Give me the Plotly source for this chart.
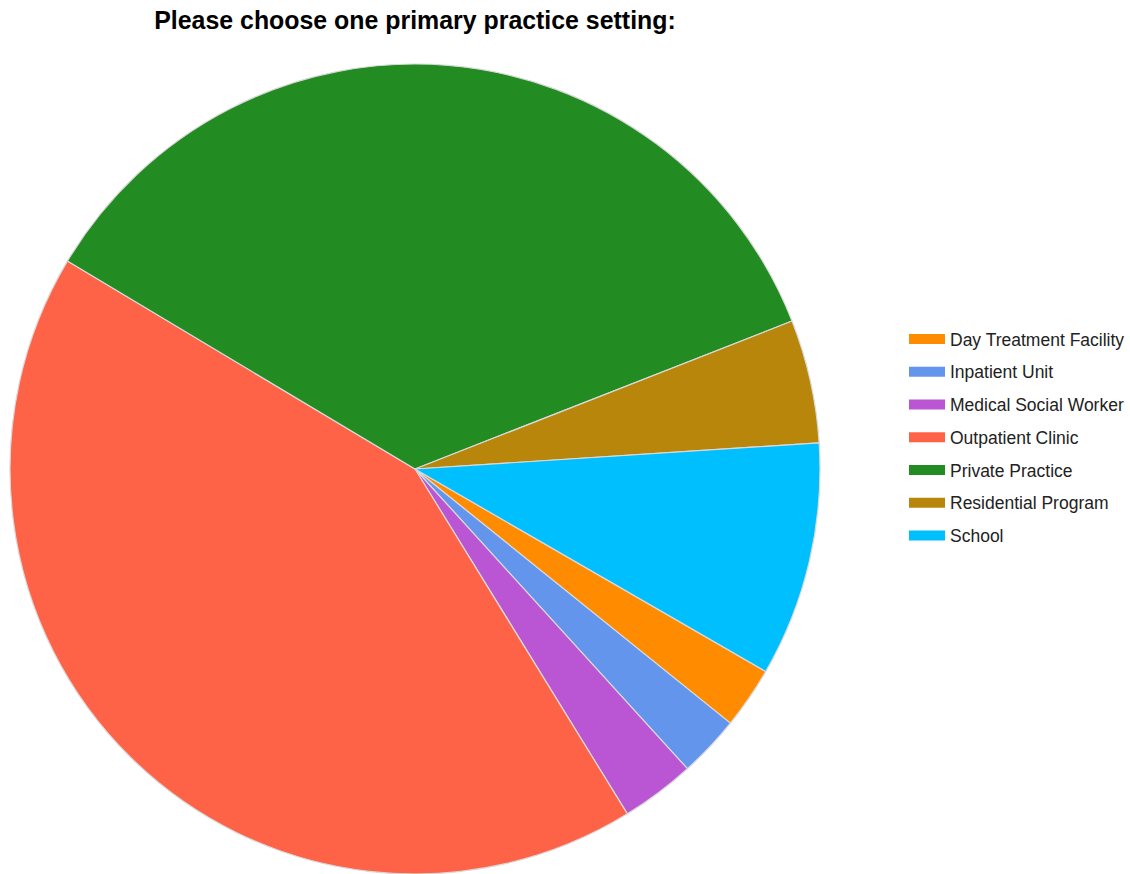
import plotly.graph_objects as go

categories = ["Day Treatment Facility", "Inpatient Unit", "Medical Social Worker",
              "Outpatient Clinic", "Private Practice", "Residential Program", "School"]
values = [5, 5, 6, 86, 72, 10, 19]
colors = ["#FF8C00", "#6495ED", "#BA55D3", "#FF6347", "#228B22", "#B8860B", "#00BFFF"]
title_text = "Please choose one primary practice setting:"

W, H = 1130, 874

fig = go.Figure()
fig.add_trace(go.Pie(
    labels=categories, values=values, sort=False, direction="clockwise",
    rotation=120, textinfo="none", hoverinfo="label+value+percent",
    marker=dict(colors=colors, line=dict(color="#d9d9d9", width=1.2)),
    domain=dict(x=[10 / W, 820 / W], y=[0, (H - 64) / H]),
    showlegend=False,
))

# legend entries (wide colour swatches)
for i, (c, col) in enumerate(zip(categories, colors)):
    fig.add_trace(go.Scatter(
        x=[None], y=[None], mode="lines", name=c,
        line=dict(color=col, width=13), legendgroup=f"g{i}",
        hoverinfo="skip",
    ))

fig.update_layout(
    width=W, height=H,
    margin=dict(l=0, r=0, t=0, b=0),
    paper_bgcolor="white", plot_bgcolor="white",
    xaxis=dict(visible=False), yaxis=dict(visible=False),
    title=dict(text="<b>" + title_text + "</b>", x=415 / W, xanchor="center",
               y=1 - 20 / H, yanchor="middle",
               font=dict(family="Arial", size=24.9, color="black")),
    legend=dict(x=904 / W, xanchor="left", y=1 - 321 / H, yanchor="top",
                font=dict(family="Arial", size=17.5, color="#222"),
                tracegroupgap=7, traceorder="grouped", itemwidth=36,
                bgcolor="rgba(0,0,0,0)"),
)

fig.write_html("out.html", config={"displayModeBar": False},
               post_script="document.body.style.margin='0';")
